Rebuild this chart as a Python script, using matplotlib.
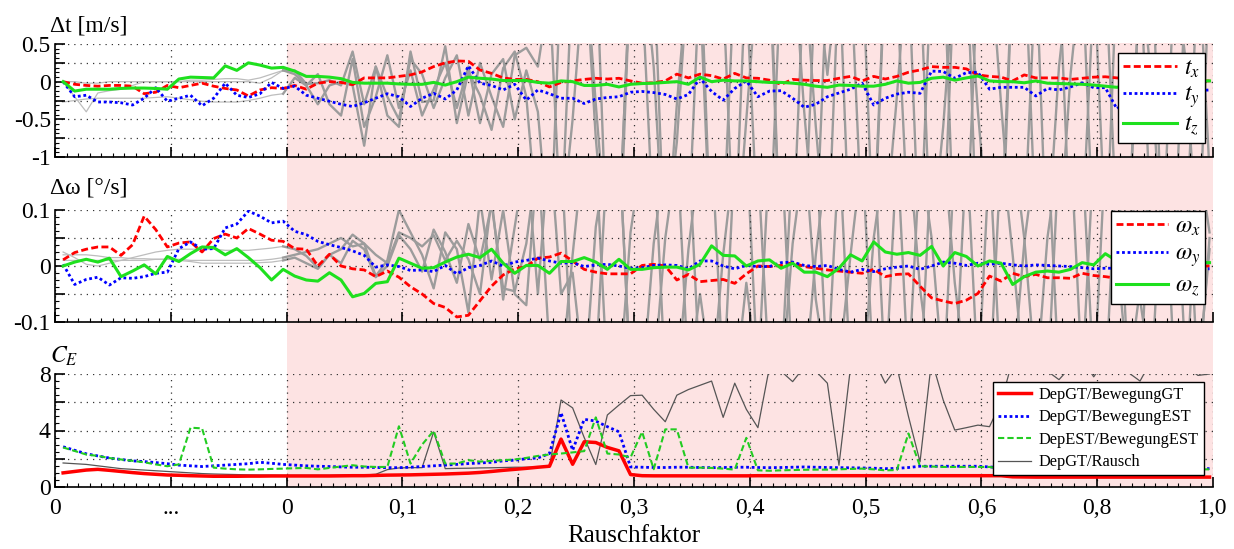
import numpy as np
import matplotlib
matplotlib.use('Agg')
import matplotlib.pyplot as plt
from matplotlib.patches import Rectangle
from matplotlib.transforms import blended_transform_factory
from matplotlib.ticker import MultipleLocator

plt.rcParams['font.family'] = ['Liberation Serif', 'DejaVu Serif']
plt.rcParams['mathtext.fontset'] = 'stix'

# x-axis tick labels (20 steps without noise, then noise factor 0..1)
tick_labels = ['0', '...', '0', '0,1', '0,2', '0,3', '0,4', '0,5', '0,6', '0,8', '1,0']

# ---- translation error [m/s] ----
t_x = [0, -0.035, -0.05, -0.06, -0.05, -0.05, -0.06, -0.16, -0.14, -0.05,
       -0.08, -0.05, -0.02, -0.06, -0.09, -0.11, -0.19, -0.11, -0.08, -0.09,
       -0.05, -0.1, -0.02, 0, -0.01, -0.04, 0.05, 0.05, 0.05, 0.07,
       0.09, 0.13, 0.2, 0.25, 0.275, 0.27, 0.155, 0.11, 0.05, 0.03,
       0.03, 0, -0.07, -0.01, 0.01, 0.03, 0.045, 0.035, 0.045, 0.01,
       -0.02, -0.015, 0.01, 0.1, 0.05, 0.1, 0.08, 0.035, 0.11, 0.05,
       0.045, 0.02, -0.035, 0.03, 0.02, 0.015, 0.015, 0.045, 0.07, 0.01,
       0.07, 0.035, 0.07, 0.125, 0.155, 0.2, 0.19, 0.19, 0.17, 0.09,
       0.07, 0.06, 0.01, 0.09, 0.05, 0.05, 0.05, 0.03, 0.045, 0.06,
       0.065, 0.05, 0.04, 0.03, 0.03, 0.02, 0.02, 0.01, 0.01, 0.01]
t_y = [0, -0.2, -0.18, -0.27, -0.27, -0.28, -0.31, -0.22, -0.08, -0.26,
       -0.22, -0.18, -0.32, -0.22, -0.02, -0.18, -0.21, -0.16, -0.01, -0.09,
       -0.06, -0.18, -0.22, -0.26, -0.3, -0.33, -0.28, -0.22, -0.16, -0.2,
       -0.33, -0.22, -0.155, -0.23, -0.11, 0.21, -0.02, -0.05, -0.11, -0.035,
       -0.245, -0.11, -0.16, -0.22, -0.22, -0.29, -0.23, -0.21, -0.2, -0.14,
       -0.13, -0.145, -0.17, -0.23, -0.17, 0.045, -0.13, -0.245, -0.09, 0.01,
       -0.2, -0.125, -0.12, -0.22, -0.34, -0.3, -0.2, -0.15, -0.1, -0.02,
       -0.31, -0.22, -0.165, -0.14, -0.155, 0.14, 0.135, 0.045, 0.12, 0.125,
       -0.1, -0.075, -0.075, -0.075, -0.19, -0.09, -0.11, -0.07, -0.015, -0.08,
       -0.08, -0.36, -0.24, -0.3, -0.28, -0.25, -0.22, -0.2, -0.12, -0.11]
t_z = [0, -0.125, -0.1, -0.1, -0.1, -0.09, -0.085, -0.085, -0.09, -0.1,
       0.035, 0.06, 0.055, 0.05, 0.21, 0.15, 0.25, 0.22, 0.18, 0.19,
       0.14, 0.07, 0.07, 0.06, 0.04, -0.01, -0.02, -0.02, -0.02, -0.03,
       -0.035, -0.035, -0.01, -0.045, 0, 0.06, 0.045, 0.035, 0.015, 0.015,
       0.015, -0.01, -0.02, 0.01, 0, -0.05, -0.05, -0.035, -0.07, -0.035,
       -0.025, -0.02, -0.01, 0, -0.035, 0.06, 0, 0.02, 0.01, 0.01,
       0, -0.01, -0.01, -0.02, -0.035, -0.06, -0.075, -0.045, -0.05, -0.06,
       -0.06, -0.035, 0.01, -0.02, -0.01, 0.045, 0.06, 0.02, 0.05, 0.075,
       0.01, 0, 0, -0.015, 0.01, -0.02, -0.025, -0.03, -0.035, -0.045,
       -0.06, -0.075, -0.045, -0.04, -0.03, -0.02, -0.01, 0, 0.01, 0.01]
t_noise1 = [0, -0.2, -0.4, -0.15, -0.12, -0.1, -0.05, 0, 0, 0,
            0, 0, 0, 0, 0, 0, 0, -0.02, 0.05, 0.15,
            0.1, -0.05, -0.3, -0.05, 0.0, -0.05, -0.85, 0.2, -0.45, -0.6,
            0.4, -0.27, -0.25, 0.47, -0.55, 0.13, -0.18, -0.64, 0.18, 0.4,
            -0.2, -2.0, -2.5, 1.5, 1.2, 1.8, -0.75, -2.5, -2.0, 1.5,
            1.8, 0.2, -2.5, -2.8, -2.0, 1.5, 1.8, 1.2, -2.5, -0.5,
            1.5, 1.8, -2.5, -2.0, -2.2, 1.5, 0.09, 1.6, -2.5, -2.2,
            -2.0, 1.6, 1.8, 1.5, -2.5, -2.2, -0.6, 1.5, 1.8, -2.5,
            -2.6, -2.0, 1.5, 1.8, 1.6, -2.5, -2.2, 0.1, 1.6, 1.5,
            -2.0, -2.5, -2.0, 1.5, 1.8, -2.5, -2.2, -2.0, 1.5, 1.2]
t_noise2 = [-0.27, -0.25, -0.23, -0.22, -0.22, -0.22, -0.22, -0.22, -0.21, -0.2,
            -0.22, -0.24, -0.26, -0.27, -0.27, -0.27, -0.25, -0.22, -0.18, -0.16,
            0.05, -0.05, 0.1, -0.3, -0.45, 0.3, -0.6, -0.2, 0.35, -0.35,
            0.15, -0.45, -0.1, 0.25, -0.35, 0.2, -0.55, 0.1, 0.3, -0.5,
            0.15, -0.4, -2.2, -2.0, 1.5, 1.8, -0.3, -2.2, -2.5, 1.5,
            1.8, 1.6, -2.5, -0.3, 1.5, 1.2, -2.5, -2.0, -2.2, 1.6,
            1.8, 1.5, -2.5, -2.2, 1.5, -0.6, -2.4, 1.5, 1.8, 1.6,
            -2.2, -2.0, -0.2, 1.8, 1.5, -2.5, -2.2, 1.6, 1.8, -0.4,
            -2.2, -2.5, 1.5, 1.8, -2.0, -2.2, 0.2, 1.6, 1.5, -2.2,
            -2.5, 1.5, 1.8, 1.6, -2.2, -2.0, 1.5, 0.2, -2.5, 1.5]
t_noise3 = [0, 0, -0.02, -0.02, 0, 0, 0, 0, 0, 0,
            0, 0.02, 0.02, 0.03, 0.04, 0.04, 0.02, 0.05, 0.1, 0.15,
            0.15, -0.03, -0.02, 0.02, -0.05, 0.4, -0.3, 0.2, -0.2, -0.5,
            0.3, 0.1, -0.35, 0.05, 0.35, -0.45, 0.25, -0.2, -0.6, 0.35,
            0.45, 0.2, 1.2, -2.0, -0.5, 1.5, 1.8, -2.4, -2.0, 1.5,
            1.2, -2.0, -2.2, -0.8, 1.5, 1.8, -2.4, -2.0, 1.5, 1.2,
            -2.0, -2.2, 1.5, 1.8, -0.4, -2.2, 1.5, 1.8, 1.5, -2.0,
            -2.2, 1.5, 1.2, -2.0, -2.2, 1.6, 1.8, -2.4, -2.2, 1.5,
            1.8, -0.3, -2.2, -2.0, 1.5, 1.8, 1.5, -2.2, -2.0, 1.2,
            1.5, -2.0, -2.2, 1.5, 0.0, -2.4, -2.0, 1.5, 1.8, -1.2]

# ---- rotation error [deg/s] ----
w_x = [0.011, 0.024, 0.03, 0.034, 0.034, 0.019, 0.038, 0.089, 0.065, 0.034,
       0.041, 0.043, 0.025, 0.049, 0.057, 0.05, 0.067, 0.057, 0.046, 0.044,
       0.031, 0.03, 0.0, 0.021, 0.0, -0.005, -0.007, -0.019, -0.009, -0.02,
       -0.037, -0.05, -0.067, -0.074, -0.091, -0.088, -0.062, -0.036, -0.016, -0.005,
       -0.001, 0.014, 0.016, 0.023, 0.009, -0.006, -0.011, -0.014, -0.014, -0.014,
       0.001, 0.003, 0.0, -0.025, -0.015, -0.028, -0.026, -0.024, -0.031, -0.014,
       0, -0.001, 0.001, 0.006, -0.001, -0.004, -0.007, -0.009, -0.011, -0.013,
       -0.006, -0.019, -0.015, -0.014, -0.036, -0.057, -0.0625, -0.067, -0.061, -0.049,
       -0.018, -0.027, -0.013, -0.019, -0.015, -0.021, -0.021, -0.022, -0.013, -0.017,
       -0.019, -0.022, -0.013, -0.01, -0.008, -0.006, -0.004, -0.002, 0, 0]
w_y = [0.003, -0.033, -0.024, -0.02, -0.034, -0.021, -0.022, -0.019, -0.013, -0.011,
       0.031, 0.043, 0.03, 0.031, 0.068, 0.075, 0.098, 0.089, 0.077, 0.08,
       0.062, 0.056, 0.044, 0.038, 0.033, 0.027, 0.019, -0.002, 0.002, -0.001,
       -0.008, -0.007, -0.01, 0.001, -0.014, -0.003, 0.001, 0.009, 0.0, 0.007,
       0.01, 0.014, 0.009, 0.005, 0.006, -0.001, 0.002, 0.003, 0.0, -0.004,
       -0.003, 0.001, 0.002, 0.001, -0.005, 0.009, 0.009, 0.0, -0.005, 0.001,
       -0.001, -0.001, 0.006, 0.007, 0.001, -0.001, 0.001, -0.006, -0.011, -0.006,
       -0.01, -0.005, -0.002, 0.0, -0.006, 0.0, 0.007, 0.005, 0.001, 0.005,
       0.003, 0.005, 0.002, 0.0, 0.002, 0.001, 0.0, -0.001, -0.003, -0.005,
       -0.004, -0.004, -0.004, -0.004, -0.005, -0.005, -0.005, -0.005, -0.005, -0.005]
w_z = [0, 0.007, 0.012, 0.007, 0.014, -0.019, -0.009, 0.002, -0.014, 0.017,
       0.008, 0.022, 0.034, 0.033, 0.02, 0.031, 0.015, -0.003, -0.025, -0.006,
       -0.018, -0.025, -0.027, -0.012, -0.025, -0.055, -0.049, -0.031, -0.028, 0.014,
       0.005, -0.004, -0.003, 0.007, 0.016, 0.021, 0.015, 0.03, 0.005, -0.013,
       0.001, 0.001, -0.013, 0.008, 0.008, 0.015, 0.007, -0.006, 0.012, -0.006,
       -0.006, -0.003, -0.002, -0.002, -0.007, 0.003, 0.036, 0.019, 0.018, 0.0,
       0.009, 0.011, -0.004, 0.005, -0.011, -0.011, -0.019, -0.004, 0.02, 0.009,
       0.043, 0.025, 0.021, 0.024, 0.019, 0.035, 0.0, 0.024, 0.017, 0.0,
       0.009, 0.005, -0.033, -0.019, -0.011, -0.009, -0.011, -0.006, 0.006, 0.002,
       0.022, 0.009, 0.006, 0.004, 0.005, 0.006, 0.006, 0.006, 0.006, 0.006]
w_noise1 = [0.025, 0.015, 0.003, 0.0, 0.005, 0.01, 0.015, 0.02, 0.025, 0.028,
            0.03, 0.03, 0.03, 0.03, 0.028, 0.028, 0.028, 0.03, 0.032, 0.035,
            0.03, 0.018, -0.003, 0.02, 0.03, 0.056, 0.04, -0.018, 0.01, 0.1,
            0.06, 0.02, -0.04, 0.06, 0.03, -0.083, 0.12, -0.024, 0.1, -0.05,
            -0.07, 0.2, 0.22, -0.05, -0.012, -0.2, -0.18, 0.2, 0.22, -0.2,
            -0.22, 0.04, 0.2, 0.22, -0.2, -0.05, -0.2, -0.22, 0.2, 0.22,
            0.18, -0.2, -0.22, 0.04, 0.2, 0.22, -0.2, -0.18, 0.02, 0.2,
            0.22, -0.2, -0.22, -0.2, 0.2, 0.05, -0.2, -0.22, 0.2, 0.22,
            0.2, -0.22, -0.2, 0.04, 0.2, 0.22, -0.2, -0.22, -0.2, 0.2,
            0.22, 0.02, -0.2, -0.22, 0.2, 0.22, 0.2, -0.2, -0.22, 0.05]
w_noise2 = [0.02, 0.02, 0.02, 0.018, 0.015, 0.015, 0.013, 0.013, 0.012, 0.012,
            0.012, 0.01, 0.01, 0.01, 0.01, 0.01, 0.01, 0.01, 0.012, 0.015,
            0.02, 0.025, 0.03, 0.04, 0.05, 0.035, 0.04, 0.02, 0.005, 0.06,
            0.05, 0.035, 0.055, 0.01, 0.045, 0.012, -0.05, 0.12, -0.06, 0.07,
            0.2, -0.05, 0.22, 0.2, -0.2, -0.22, 0.07, 0.2, 0.22, -0.2,
            -0.22, -0.2, 0.05, 0.2, 0.22, -0.2, -0.22, 0.02, 0.2, 0.22,
            -0.2, -0.22, -0.2, 0.2, 0.22, -0.06, -0.2, 0.2, 0.22, 0.2,
            -0.2, -0.22, 0.2, 0.22, -0.04, -0.2, -0.22, 0.2, 0.22, -0.2,
            -0.22, 0.2, 0.22, 0.05, -0.2, -0.22, 0.2, 0.22, 0.2, -0.2,
            -0.22, 0.2, 0.22, -0.06, -0.2, 0.2, 0.22, 0.2, -0.2, 0.03]
w_noise3 = [0.01, 0.01, 0.01, 0.01, 0.01, 0.01, 0.01, 0.01, 0.012, 0.012,
            0.01, 0.008, 0.005, 0.005, 0.005, 0.005, 0.005, 0.006, 0.007, 0.01,
            0.015, 0.005, -0.005, 0.02, 0.005, 0.045, 0.03, -0.02, 0.0, 0.055,
            0.03, -0.01, 0.065, 0.025, -0.03, 0.075, 0.01, 0.11, -0.04, -0.045,
            0.04, 0.2, -0.15, -0.2, 0.02, 0.22, 0.2, -0.2, -0.22, 0.06,
            0.2, 0.22, -0.2, -0.22, 0.03, 0.2, 0.22, -0.2, -0.22, -0.03,
            -0.2, 0.2, 0.22, -0.2, -0.22, 0.02, 0.2, 0.22, -0.2, -0.22,
            0.05, 0.2, 0.22, -0.2, -0.22, 0.2, 0.22, -0.03, -0.2, -0.22,
            0.2, 0.22, 0.02, -0.2, -0.22, 0.05, 0.2, 0.22, -0.2, -0.22,
            0.2, 0.22, -0.2, -0.04, 0.2, 0.22, -0.2, -0.22, 0.2, 0.06]

# ---- C_E ----
ce_gt_gt = [1.0, 1.1, 1.2, 1.25, 1.18, 1.1, 1.02, 0.95, 0.9, 0.85,
            0.83, 0.8, 0.78, 0.76, 0.76, 0.76, 0.77, 0.77, 0.78, 0.78,
            0.78, 0.78, 0.78, 0.78, 0.79, 0.8, 0.8, 0.82, 0.84, 0.85,
            0.86, 0.88, 0.9, 0.92, 0.95, 0.98, 1.03, 1.1, 1.18, 1.25,
            1.32, 1.4, 1.47, 3.39, 1.61, 3.2, 3.15, 2.8, 2.56, 0.88,
            0.8, 0.79, 0.79, 0.79, 0.79, 0.79, 0.79, 0.79, 0.79, 0.79,
            0.8, 0.8, 0.8, 0.8, 0.8, 0.8, 0.8, 0.8, 0.8, 0.8,
            0.8, 0.8, 0.8, 0.8, 0.8, 0.8, 0.8, 0.8, 0.8, 0.8,
            0.8, 0.8, 0.72, 0.71, 0.7, 0.7, 0.7, 0.7, 0.7, 0.7,
            0.7, 0.7, 0.7, 0.7, 0.7, 0.7, 0.7, 0.7, 0.7, 0.7]
ce_gt_est = [2.85, 2.6, 2.35, 2.2, 2.05, 1.95, 1.85, 1.8, 1.73, 1.65,
             1.55, 1.5, 1.45, 1.5, 1.55, 1.6, 1.65, 1.75, 1.68, 1.6,
             1.55, 1.5, 1.47, 1.45, 1.42, 1.4, 1.4, 1.38, 1.37, 1.37,
             1.4, 1.45, 1.5, 1.55, 1.6, 1.66, 1.7, 1.75, 1.85, 1.9,
             2.0, 2.06, 2.37, 5.26, 2.6, 4.79, 4.67, 4.27, 3.91, 1.42,
             1.4, 1.38, 1.38, 1.4, 1.4, 1.38, 1.37, 1.38, 1.4, 1.4,
             1.38, 1.37, 1.38, 1.4, 1.42, 1.4, 1.38, 1.37, 1.36, 1.35,
             1.33, 1.3, 1.32, 1.38, 1.47, 1.47, 1.47, 1.47, 1.47, 1.47,
             1.42, 1.37, 1.35, 1.35, 1.33, 1.33, 1.32, 1.32, 1.3, 1.3,
             1.3, 1.3, 1.3, 1.3, 1.3, 1.3, 1.3, 1.3, 1.3, 1.3]
ce_est_est = [2.8, 2.55, 2.3, 2.2, 2.05, 1.95, 1.85, 1.75, 1.6, 1.47,
              1.6, 4.2, 4.15, 1.37, 1.3, 1.25, 1.23, 1.25, 1.28, 1.3,
              1.33, 1.35, 1.25, 1.35, 1.45, 1.54, 1.45, 1.42, 1.42, 4.3,
              1.66, 3.0, 3.98, 1.66, 1.66, 1.9, 1.8, 1.85, 1.9, 1.95,
              2.06, 2.2, 2.3, 2.37, 2.45, 2.54, 4.93, 2.37, 2.3, 2.09,
              3.9, 1.26, 4.08, 4.08, 1.37, 1.37, 1.35, 1.3, 1.23, 3.48,
              1.18, 1.15, 1.18, 1.2, 1.22, 1.23, 1.23, 1.25, 1.28, 1.3,
              1.25, 1.18, 1.2, 3.79, 1.47, 1.45, 1.42, 1.42, 1.42, 1.42,
              1.42, 1.3, 1.25, 1.25, 1.25, 1.25, 1.25, 1.25, 1.25, 1.25,
              1.25, 1.25, 1.25, 1.25, 1.25, 1.25, 1.25, 1.25, 1.25, 1.25]
ce_gt_noise = [1.7, 1.65, 1.6, 1.5, 1.4, 1.3, 1.25, 1.2, 1.15, 1.1,
               1.05, 1.0, 0.95, 0.92, 0.9, 0.88, 0.86, 0.85, 0.84, 0.83,
               0.83, 0.83, 0.83, 0.83, 0.84, 0.85, 0.85, 0.9, 1.23, 1.35,
               1.37, 1.37, 3.9, 1.3, 1.32, 1.33, 1.35, 1.36, 1.38, 1.4,
               1.4, 1.41, 1.42, 6.16, 5.6, 3.5, 1.59, 5.1, 5.8, 6.47,
               6.5, 5.5, 4.62, 6.5, 6.9, 7.2, 7.5, 4.93, 7.35, 5.5,
               4.2, 8.5, 8.2, 7.46, 8.5, 8.2, 7.35, 1.54, 8.5, 9.0,
               9.0, 7.35, 8.5, 5.0, 1.78, 9.0, 6.16, 4.03, 4.2, 4.38,
               4.27, 6.0, 9.0, 8.4, 9.5, 8.2, 7.6, 8.5, 9.0, 7.8,
               9.0, 10.0, 8.1, 7.5, 9.0, 8.3, 10.0, 8.5, 7.9, 8.0]

x = np.arange(len(t_x)) + 0.7

fig = plt.figure(figsize=(12.34, 5.49), dpi=100)


def box(top, bot):
    return [55 / 1234, 1 - bot / 549, (1213 - 55) / 1234, (bot - top) / 549]


ax1 = fig.add_axes(box(44, 157))
ax2 = fig.add_axes(box(210, 322), sharex=ax1)
ax3 = fig.add_axes(box(374, 487), sharex=ax1)

# pink background for the noisy part, spanning all three panels
trans = blended_transform_factory(ax3.transData, fig.transFigure)
fig.add_artist(Rectangle((20, 1 - 487 / 549), 80, (487 - 43) / 549, transform=trans,
                         facecolor='#fde3e3', edgecolor='none', zorder=-5))


def grey(ax, y):
    ax.plot(x[:20], y[:20], color='#bdbdbd', lw=0.9, zorder=1)
    ax.plot(x[19:], y[19:], color='#9c9c9c', lw=1.7, zorder=1)


for g in (t_noise1, t_noise2, t_noise3):
    grey(ax1, g)
ax1.plot(x, t_x, color='#ff0000', ls=(0, (2.5, 1.2)), lw=2, label='$t_x$', zorder=3)
ax1.plot(x, t_y, color='#0000ff', ls=(0, (1, 1)), lw=2, label='$t_y$', zorder=3)
ax1.plot(x, t_z, color='#1ee01e', lw=2.2, label='$t_z$', zorder=3)

for g in (w_noise1, w_noise2, w_noise3):
    grey(ax2, g)
ax2.plot(x, w_x, color='#ff0000', ls=(0, (2.5, 1.2)), lw=2, label=r'$\omega_x$', zorder=3)
ax2.plot(x, w_y, color='#0000ff', ls=(0, (1, 1)), lw=2, label=r'$\omega_y$', zorder=3)
ax2.plot(x, w_z, color='#1ee01e', lw=2.2, label=r'$\omega_z$', zorder=3)

ax3.plot(x, ce_gt_gt, color='#ff0000', lw=2.5, label='DepGT/BewegungGT', zorder=3)
ax3.plot(x, ce_gt_est, color='#0000ff', ls=(0, (1, 1)), lw=2, label='DepGT/BewegungEST', zorder=3)
ax3.plot(x, ce_est_est, color='#22cc22', ls=(0, (3, 1.5)), lw=1.5, label='DepEST/BewegungEST', zorder=3)
ax3.plot(x, ce_gt_noise, color='#555555', lw=0.9, label='DepGT/Rausch', zorder=2)

ax1.set_ylim(-1, 0.5)
ax1.set_yticks([-1, -0.75, -0.5, -0.25, 0, 0.25, 0.5])
ax1.set_yticklabels(['-1', '', '-0.5', '', '0', '', '0.5'])
ax1.yaxis.set_minor_locator(MultipleLocator(0.0625))
ax2.set_ylim(-0.1, 0.1)
ax2.set_yticks([-0.1, -0.05, 0, 0.05, 0.1])
ax2.set_yticklabels(['-0.1', '', '0', '', '0.1'])
ax2.yaxis.set_minor_locator(MultipleLocator(0.0125))
ax3.set_ylim(0, 8)
ax3.set_yticks([0, 2, 4, 6, 8])
ax3.set_yticklabels(['0', '', '4', '', '8'])
ax3.yaxis.set_minor_locator(MultipleLocator(0.5))

ax3.set_xlim(0, 100)
ax3.set_xticks(np.arange(0, 101, 10))
ax3.set_xticklabels(tick_labels)
ax3.xaxis.set_minor_locator(MultipleLocator(1))
ax3.set_xlabel('Rauschfaktor', fontsize=18, labelpad=4)

for ax in (ax1, ax2, ax3):
    ax.set_facecolor('none')
    ax.spines['top'].set_visible(False)
    ax.spines['right'].set_visible(False)
    ax.spines['left'].set_linewidth(1.2)
    ax.spines['bottom'].set_linewidth(1.2)
    ax.tick_params(which='both', direction='in')
    ax.tick_params(which='major', length=7, width=1.2, labelsize=17)
    ax.tick_params(which='minor', length=3, width=0.8)
    ax.grid(True, which='major', color='#333333', ls=(0, (1, 4)), lw=0.9)
    ax.tick_params(axis='x', which='major', labelsize=17, pad=8)
    ax.tick_params(axis='y', which='major', pad=3)
for ax in (ax1, ax2):
    ax.tick_params(labelbottom=False)

ax1.text(-0.004, 1.16, 'Δt [m/s]', transform=ax1.transAxes, fontsize=17, va='center')
ax2.text(-0.004, 1.2, 'Δω [°/s]', transform=ax2.transAxes, fontsize=17, va='center')
ax3.text(-0.004, 1.16, '$C_E$', transform=ax3.transAxes, fontsize=17, va='center')

leg_kw = dict(fancybox=False, edgecolor='black', framealpha=1, borderaxespad=0)
l1 = ax1.legend(loc='upper right', bbox_to_anchor=(0.993, 0.92), fontsize=17,
                handlelength=2.3, labelspacing=0.2, borderpad=0.2, handletextpad=0.3, **leg_kw)
l2 = ax2.legend(loc='upper right', bbox_to_anchor=(0.993, 0.99), fontsize=17,
                handlelength=2.2, labelspacing=0.25, borderpad=0.2, handletextpad=0.3, **leg_kw)
l3 = ax3.legend(loc='upper right', bbox_to_anchor=(0.992, 0.93), fontsize=11.8,
                handlelength=2.0, labelspacing=0.4, borderpad=0.3, handletextpad=0.5, **leg_kw)
for lg in (l1, l2, l3):
    lg.get_frame().set_linewidth(1.0)
    lg.set_zorder(10)

fig.savefig('out.png', dpi=100)
